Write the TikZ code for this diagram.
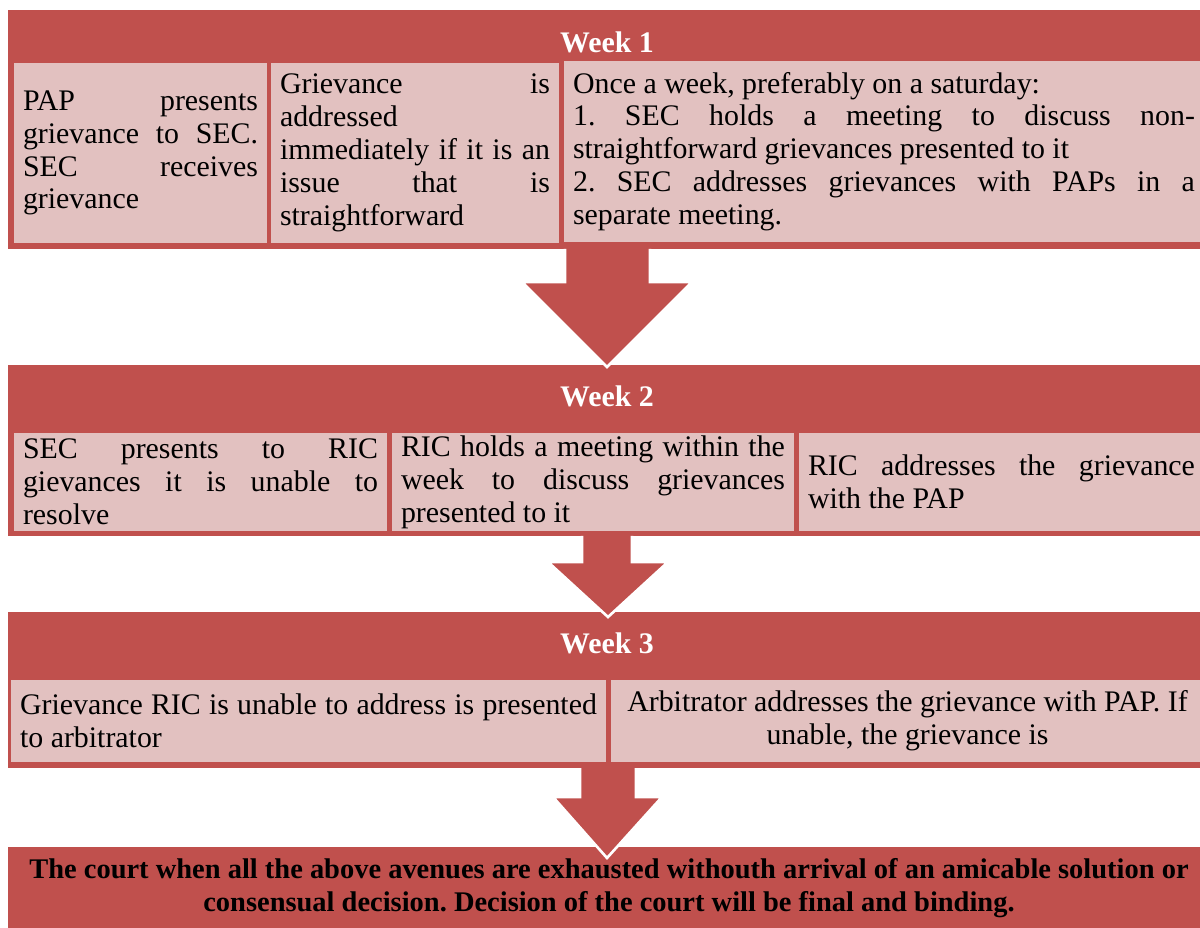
\documentclass[tikz,border=0pt]{standalone}
\usepackage{fontspec}
\setmainfont{Liberation Serif}
\tolerance=10000
\hbadness=10000
\hyphenpenalty=10000
\frenchspacing

\definecolor{accent}{HTML}{C0504D}
\definecolor{cellfill}{HTML}{E2C1C0}

\tikzset{
	band/.style={fill=accent, draw=accent, inner sep=0pt},
	cell/.style={draw=accent, fill=cellfill, line width=1.2pt, inner xsep=0.2cm, inner ysep=0pt,
		align=justify, font=\fontsize{17}{18.7}\selectfont},
	weektitle/.style={text=white, font=\fontsize{17}{20}\selectfont\bfseries},
	arrowrim/.style={draw=white, line width=1.5pt},
}

\begin{document}
\begin{tikzpicture}[x=0.02cm, y=-0.02cm]
	\useasboundingbox (0,0) rectangle (1200,928);

	% bands
	\node[band, minimum width=24.04cm, minimum height=4.76cm] (week1) at (609,129) {};
	\node[band, minimum width=24.04cm, minimum height=3.40cm] (week2) at (609,450) {};
	\node[band, minimum width=24.04cm, minimum height=3.10cm] (week3) at (609,689.5) {};
	\node[band, minimum width=24.04cm, minimum height=1.64cm, align=center,
		font=\fontsize{16.2}{18.4}\selectfont\bfseries] (court) at (609,888)
		{The court when all the above avenues are exhausted withouth arrival of an amicable solution or\\
		consensual decision. Decision of the court will be final and binding.};

	\node[weektitle] (title1) at (607,42) {Week 1};
	\node[weektitle] (title2) at (607,396) {Week 2};
	\node[weektitle] (title3) at (607,643) {Week 3};

	% week 1
	\node[cell, minimum width=5.10cm, minimum height=3.66cm, text width=4.70cm] (pap) at (140.5,153)
		{PAP presents\linebreak grievance to SEC.\linebreak SEC receives\linebreak grievance};
	\node[cell, minimum width=5.80cm, minimum height=3.66cm, text width=5.40cm] (direct) at (415,153)
		{Grievance is\linebreak addressed\linebreak immediately if it is an\linebreak issue that is\linebreak straightforward};
	\node[cell, minimum width=12.84cm, minimum height=3.66cm, text width=12.44cm] (secmeet) at (884,151.5)
		{Once a week, preferably on a saturday:\\
		1. SEC holds a meeting to discuss non-\linebreak straightforward grievances presented to it\\
		2. SEC addresses grievances with PAPs in a\linebreak separate meeting.};

	% week 2
	\node[cell, minimum width=7.50cm, minimum height=2.00cm, text width=7.10cm] (toric) at (200.5,482)
		{SEC presents to RIC\linebreak gievances it is unable to\linebreak resolve};
	\node[cell, minimum width=8.08cm, minimum height=2.00cm, text width=7.68cm] (ricmeet) at (593,482)
		{RIC holds a meeting within the\linebreak week to discuss grievances\linebreak presented to it};
	\node[cell, minimum width=8.14cm, minimum height=2.00cm, text width=7.74cm] (ricpap) at (1001.5,482)
		{RIC addresses the grievance\linebreak with the PAP};

	% week 3
	\node[cell, minimum width=11.94cm, minimum height=1.70cm, text width=11.54cm] (toarb) at (308.5,721)
		{Grievance RIC is unable to address is presented\linebreak to arbitrator};
	\node[cell, minimum width=11.90cm, minimum height=1.70cm, align=center] (arbpap) at (907.5,721)
		{Arbitrator addresses the grievance with PAP. If\\ unable, the grievance is};

	% arrows
	\fill[accent] (565,246) -- (565,282) -- (522,282) -- (607,367) -- (692,282) -- (650,282) -- (650,246) -- cycle;
	\draw[arrowrim] (565,249) -- (565,282) -- (522,282) -- (607,367) -- (692,282) -- (650,282) -- (650,249);

	\fill[accent] (582,533) -- (582,562) -- (548,562) -- (608,617) -- (668,562) -- (632,562) -- (632,533) -- cycle;
	\draw[arrowrim] (582,536) -- (582,562) -- (548,562) -- (608,617) -- (668,562) -- (632,562) -- (632,536);

	\fill[accent] (580,765) -- (580,797) -- (553,797) -- (607,858) -- (662,797) -- (636,797) -- (636,765) -- cycle;
	\draw[arrowrim] (580,768) -- (580,797) -- (553,797) -- (607,858) -- (662,797) -- (636,797) -- (636,768);
\end{tikzpicture}
\end{document}
